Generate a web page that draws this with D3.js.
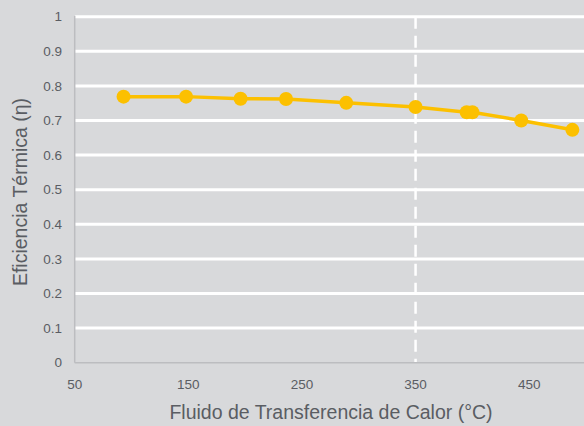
<!DOCTYPE html>
<html><head><meta charset="utf-8">
<script src="https://cdn.jsdelivr.net/npm/d3@7"></script>
<style>
html,body{margin:0;padding:0;background:#d8d9db;}
svg{display:block;}
text{font-family:"Liberation Sans",Arial,sans-serif;fill:#5a5d63;}
</style></head>
<body>
<svg id="chart" width="584" height="426"></svg>
<script>
const temps = [93, 148, 196, 236, 289, 350, 395, 400, 443, 488];
const effs = [0.769, 0.769, 0.763, 0.762, 0.751, 0.739, 0.724, 0.724, 0.700, 0.673];
const xTicks = [50, 150, 250, 350, 450];
const yTicks = [0, 0.1, 0.2, 0.3, 0.4, 0.5, 0.6, 0.7, 0.8, 0.9, 1];
const refLine = 350;
const xTitle = "Fluido de Transferencia de Calor (°C)";
const yTitle = "Eficiencia Térmica (η)";

const svg = d3.select("#chart");
const x = d3.scaleLinear().domain([50, 500]).range([74.7, 586]);
const y = d3.scaleLinear().domain([0, 1]).range([362.7, 16.7]);

svg.append("rect").attr("width",584).attr("height",426).attr("fill","#d8d9db");

// grid
svg.append("g").selectAll("line").data(yTicks.filter(d=>d>0)).join("line")
  .attr("x1", x(50)).attr("x2", 584)
  .attr("y1", d=>y(d)).attr("y2", d=>y(d))
  .attr("stroke","#ffffff").attr("stroke-width",3);

// reference dashed line
svg.append("line")
  .attr("x1", x(refLine)).attr("x2", x(refLine))
  .attr("y1", y(1)).attr("y2", y(0))
  .attr("stroke","#ffffff").attr("stroke-width",2.5)
  .attr("stroke-dasharray","12,7");

// axes lines
svg.append("line").attr("x1",x(50)).attr("x2",x(50)).attr("y1",y(1)-1).attr("y2",y(0))
  .attr("stroke","#bcbdc0").attr("stroke-width",1.5);
svg.append("line").attr("x1",x(50)).attr("x2",584).attr("y1",y(0)).attr("y2",y(0))
  .attr("stroke","#bcbdc0").attr("stroke-width",1.5);

// y tick labels
svg.append("g").selectAll("text").data(yTicks).join("text")
  .attr("x", 62).attr("y", d=>y(d)).attr("dy","0.35em")
  .attr("text-anchor","end").attr("font-size",13.5)
  .text(d=>d3.format("~g")(d));

// x tick labels
svg.append("g").selectAll("text").data(xTicks).join("text")
  .attr("x", d=>x(d)).attr("y", 389)
  .attr("text-anchor","middle").attr("font-size",13.5)
  .text(d=>d);

// titles
svg.append("text").attr("x", 331).attr("y", 419)
  .attr("text-anchor","middle").attr("font-size",19.5).text(xTitle);
svg.append("text").attr("transform","translate(27,192) rotate(-90)")
  .attr("text-anchor","middle").attr("font-size",19.5).text(yTitle);

// line
const data = temps.map((t,i)=>({t, e:effs[i]}));
svg.append("path").datum(data)
  .attr("d", d3.line().x(d=>x(d.t)).y(d=>y(d.e)))
  .attr("fill","none").attr("stroke","#fcc000").attr("stroke-width",3.5);
svg.append("g").selectAll("circle").data(data).join("circle")
  .attr("cx", d=>x(d.t)).attr("cy", d=>y(d.e)).attr("r",7)
  .attr("fill","#fcc000");
</script>
</body></html>
